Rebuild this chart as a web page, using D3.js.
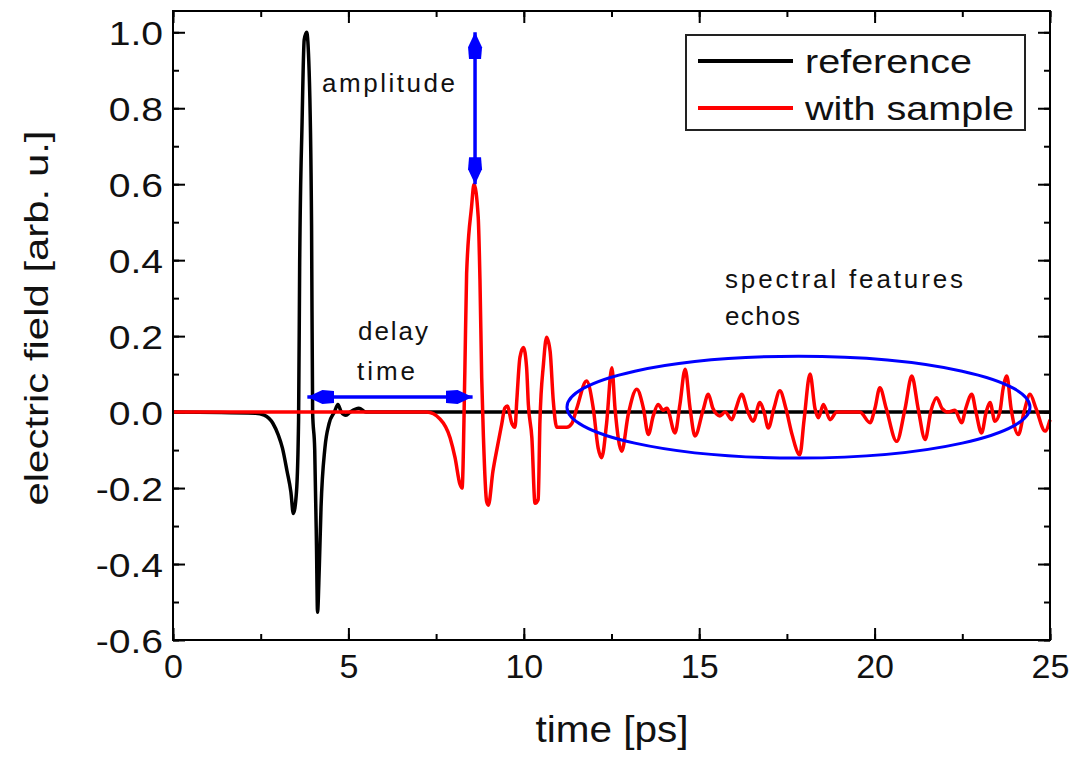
<!DOCTYPE html>
<html>
<head>
<meta charset="utf-8">
<script src="https://cdn.jsdelivr.net/npm/d3@7"></script>
<style>
  body { margin: 0; background: #fff; }
  svg text { font-family: Arial, "Liberation Sans", sans-serif; fill: #111; }
</style>
</head>
<body>
<svg id="chart" width="1076" height="757"></svg>
<script>
// reference pulse (no sample)
const refTime  = [0, 2.35, 2.6, 2.85, 3.0, 3.12, 3.25, 3.36, 3.43, 3.52, 3.58, 3.61, 3.68, 3.74, 3.81, 3.88, 3.95, 3.98, 4.04, 4.09, 4.12, 4.17, 4.22, 4.33, 4.45, 4.6, 4.7, 4.8, 4.93, 5.05, 5.3, 5.5, 25];
const refField = [0, -0.003, -0.008, -0.03, -0.06, -0.095, -0.155, -0.21, -0.267, -0.21, -0.02, 0.38, 0.765, 0.98, 1.0, 0.9, 0.49, 0.0, -0.1, -0.35, -0.527, -0.41, -0.25, -0.095, -0.03, 0.0, 0.02, 0.0, -0.008, 0.0, 0.01, 0.0, 0];

// transmitted pulse (with sample)
const sampleTime  = [0, 7.23, 7.61, 7.9, 8.04, 8.18, 8.24, 8.32, 8.37, 8.51, 8.58, 8.7, 8.75, 8.8, 8.85, 8.94, 8.99, 9.12, 9.26, 9.37, 9.46, 9.53, 9.66, 9.75, 9.8, 9.89, 9.99, 10.08, 10.13, 10.23, 10.32, 10.41, 10.46, 10.56, 10.65, 10.75, 10.84, 10.94, 11.22, 11.37, 11.51, 11.79, 11.98, 12.12, 12.22, 12.36, 12.51, 12.6, 12.79, 12.98, 13.22, 13.41, 13.55, 13.69, 13.83, 13.97, 14.08, 14.31, 14.45, 14.6, 14.74, 14.88, 15.11, 15.26, 15.39, 15.59, 15.74, 15.93, 16.05, 16.21, 16.39, 16.54, 16.73, 16.85, 16.97, 17.13, 17.3, 17.47, 17.65, 17.83, 17.87, 17.99, 18.16, 18.3, 18.4, 18.54, 18.73, 18.92, 19.3, 19.58, 19.87, 20.01, 20.15, 20.33, 20.63, 20.87, 21.06, 21.24, 21.44, 21.61, 21.77, 21.92, 22.1, 22.29, 22.48, 22.6, 22.77, 22.89, 23.05, 23.18, 23.29, 23.43, 23.57, 23.66, 23.77, 23.89, 24.1, 24.26, 24.43, 24.6, 24.86, 25];
const sampleField = [0, 0, -0.018, -0.068, -0.12, -0.19, -0.2, 0.108, 0.365, 0.54, 0.6, 0.514, 0.35, 0.09, -0.068, -0.235, -0.245, -0.156, -0.085, -0.032, 0.011, 0.016, -0.03, -0.04, 0.03, 0.144, 0.17, 0.117, 0.02, -0.068, -0.24, -0.23, -0.024, 0.126, 0.197, 0.16, 0.03, -0.04, -0.04, -0.03, 0.01, 0.082, 0.01, -0.095, -0.12, -0.03, 0.117, 0.01, -0.103, -0.005, 0.06, 0.01, -0.059, -0.01, 0.02, 0.005, 0.01, -0.055, 0.02, 0.113, 0.01, -0.063, 0.005, 0.047, 0.01, -0.01, 0.0, -0.02, 0.01, 0.047, 0.0, -0.024, 0.025, 0.0, -0.042, 0.01, 0.056, 0.01, -0.06, -0.11, -0.112, -0.02, 0.1, 0.01, -0.015, 0.02, -0.02, 0.0, 0.0, 0.0, -0.028, 0.01, 0.064, 0.01, -0.077, 0.01, 0.095, 0.01, -0.072, 0.005, 0.038, 0.01, 0.0, 0.005, -0.028, 0.01, 0.047, 0.0, -0.055, 0.0, 0.025, -0.024, 0.0, 0.06, 0.095, 0.01, -0.059, 0.0, 0.047, 0.01, -0.05, -0.02];

const xTicks = [0, 5, 10, 15, 20, 25];
const yTicks = [-0.6, -0.4, -0.2, 0.0, 0.2, 0.4, 0.6, 0.8, 1.0];
const seriesNames = ['reference', 'with sample'];

// annotations, in data units
const delayArrow = { t0: 3.83, t1: 8.54, v: 0.04 };
const ampArrow = { t: 8.61, v0: 1.0, v1: 0.6 };
const echoEllipse = { t: 17.83, dt: 6.6, v: 0.013, dv: 0.134 };

const width = 1076, height = 757;
const margin = { top: 11, right: 26, bottom: 117, left: 173 };
const svg = d3.select('#chart');

const x = d3.scaleLinear().domain([0, 25]).range([margin.left, width - margin.right]);
const y = d3.scaleLinear().domain([-0.6, 1.056]).range([height - margin.bottom, margin.top]);

// arrow head like the origin ones: box + triangle
const defs = svg.append('defs');
defs.append('marker')
    .attr('id', 'head')
    .attr('markerUnits', 'userSpaceOnUse')
    .attr('viewBox', '0 -8 27 16')
    .attr('refX', 27).attr('refY', 0)
    .attr('markerWidth', 27).attr('markerHeight', 16)
    .attr('orient', 'auto-start-reverse')
    .append('path')
    .attr('d', 'M0,-6 L12,-7 L27,0 L12,7 L0,6 Z')
    .attr('fill', '#0000ff');

// axes (ticks point inwards on all four sides)
function addAxis(axis, transform) {
    const g = svg.append('g').attr('transform', transform).call(axis);
    g.select('.domain').remove();
    g.selectAll('.tick line').attr('stroke', '#000').attr('stroke-width', 2);
    return g;
}
const xMinor = d3.range(0, 25.01, 2.5);
const yMinor = d3.range(-0.6, 1.01, 0.1);
const plotBottom = height - margin.bottom, plotTop = margin.top;
const plotLeft = margin.left, plotRight = width - margin.right;
const hyphen = f => d => f(d).replace('\u2212', '-');

addAxis(d3.axisBottom(x).tickValues(xMinor).tickSize(-6).tickFormat(''), `translate(0,${plotBottom})`);
addAxis(d3.axisTop(x).tickValues(xMinor).tickSize(-6).tickFormat(''), `translate(0,${plotTop})`);
addAxis(d3.axisLeft(y).tickValues(yMinor).tickSize(-6).tickFormat(''), `translate(${plotLeft},0)`);
addAxis(d3.axisRight(y).tickValues(yMinor).tickSize(-6).tickFormat(''), `translate(${plotRight},0)`);

const xAxis = addAxis(d3.axisBottom(x).tickValues(xTicks).tickSize(-12).tickPadding(14).tickFormat(d3.format('d')), `translate(0,${plotBottom})`);
addAxis(d3.axisTop(x).tickValues(xTicks).tickSize(-12).tickFormat(''), `translate(0,${plotTop})`);
const yAxis = addAxis(d3.axisLeft(y).tickValues(yTicks).tickSize(-12).tickPadding(10).tickFormat(hyphen(d3.format('.1f'))), `translate(${plotLeft},0)`);
addAxis(d3.axisRight(y).tickValues(yTicks).tickSize(-12).tickFormat(''), `translate(${plotRight},0)`);

xAxis.selectAll('text').attr('font-size', 34).attr('fill', '#111');
yAxis.selectAll('text').attr('font-size', 34).attr('fill', '#111').attr('dy', '0.36em');
// the original digits are a little wider than Arial
yAxis.selectAll('text').each(function () {
    const w = this.getComputedTextLength();
    d3.select(this).attr('textLength', w * 1.15).attr('lengthAdjust', 'spacingAndGlyphs');
});

// curves
const line = d3.line().x(d => x(d[0])).y(d => y(d[1])).curve(d3.curveMonotoneX);
const refData = refTime.map((t, i) => [t, refField[i]]);
const sampleData = sampleTime.map((t, i) => [t, sampleField[i]]);

svg.append('path').datum(refData)
    .attr('d', line).attr('fill', 'none')
    .attr('stroke', '#000').attr('stroke-width', 3.5).attr('stroke-linejoin', 'round');
svg.append('path').datum(sampleData)
    .attr('d', line).attr('fill', 'none')
    .attr('stroke', '#ff0000').attr('stroke-width', 3.5).attr('stroke-linejoin', 'round');

// frame
svg.append('rect')
    .attr('x', plotLeft).attr('y', plotTop)
    .attr('width', plotRight - plotLeft).attr('height', plotBottom - plotTop)
    .attr('fill', 'none').attr('stroke', '#000').attr('stroke-width', 2);

// blue annotations
svg.append('ellipse')
    .attr('cx', x(echoEllipse.t)).attr('cy', y(echoEllipse.v))
    .attr('rx', x(echoEllipse.t + echoEllipse.dt) - x(echoEllipse.t))
    .attr('ry', y(0) - y(echoEllipse.dv))
    .attr('fill', 'none').attr('stroke', '#0000ff').attr('stroke-width', 3);

svg.append('line')
    .attr('x1', x(delayArrow.t0)).attr('x2', x(delayArrow.t1))
    .attr('y1', y(delayArrow.v)).attr('y2', y(delayArrow.v))
    .attr('stroke', '#0000ff').attr('stroke-width', 3.5)
    .attr('marker-start', 'url(#head)').attr('marker-end', 'url(#head)');

svg.append('line')
    .attr('x1', x(ampArrow.t)).attr('x2', x(ampArrow.t))
    .attr('y1', y(ampArrow.v0)).attr('y2', y(ampArrow.v1))
    .attr('stroke', '#0000ff').attr('stroke-width', 3.5)
    .attr('marker-start', 'url(#head)').attr('marker-end', 'url(#head)');

// annotation labels
const notes = [
    { text: 'amplitude', x: 322, y: 92, len: 133 },
    { text: 'delay', x: 358, y: 340, len: 70 },
    { text: 'time', x: 357, y: 380, len: 58 },
    { text: 'spectral features', x: 725, y: 288, len: 238 },
    { text: 'echos', x: 725, y: 325, len: 75 }
];
svg.selectAll('.note').data(notes).join('text')
    .attr('class', 'note')
    .attr('x', d => d.x).attr('y', d => d.y)
    .attr('font-size', 26)
    .attr('textLength', d => d.len).attr('lengthAdjust', 'spacing')
    .text(d => d.text);

// axis titles
svg.append('text')
    .attr('x', 612).attr('y', 742)
    .attr('text-anchor', 'middle').attr('font-size', 36)
    .attr('textLength', 153).attr('lengthAdjust', 'spacingAndGlyphs')
    .text('time [ps]');
svg.append('text')
    .attr('transform', 'translate(48,318) rotate(-90)')
    .attr('text-anchor', 'middle').attr('font-size', 34)
    .attr('textLength', 375).attr('lengthAdjust', 'spacingAndGlyphs')
    .text('electric field [arb. u.]');

// legend
const legend = svg.append('g');
legend.append('rect')
    .attr('x', 686).attr('y', 35).attr('width', 339).attr('height', 95)
    .attr('fill', '#fff').attr('stroke', '#222').attr('stroke-width', 2);
const legendColors = ['#000', '#ff0000'];
seriesNames.forEach((name, i) => {
    const ly = 61 + i * 47;
    legend.append('line')
        .attr('x1', 698).attr('x2', 793).attr('y1', ly).attr('y2', ly)
        .attr('stroke', legendColors[i]).attr('stroke-width', 4);
    legend.append('text')
        .attr('x', 805).attr('y', ly + 12)
        .attr('font-size', 34)
        .attr('textLength', i === 0 ? 167 : 209).attr('lengthAdjust', 'spacingAndGlyphs')
        .text(name);
});
</script>
</body>
</html>
